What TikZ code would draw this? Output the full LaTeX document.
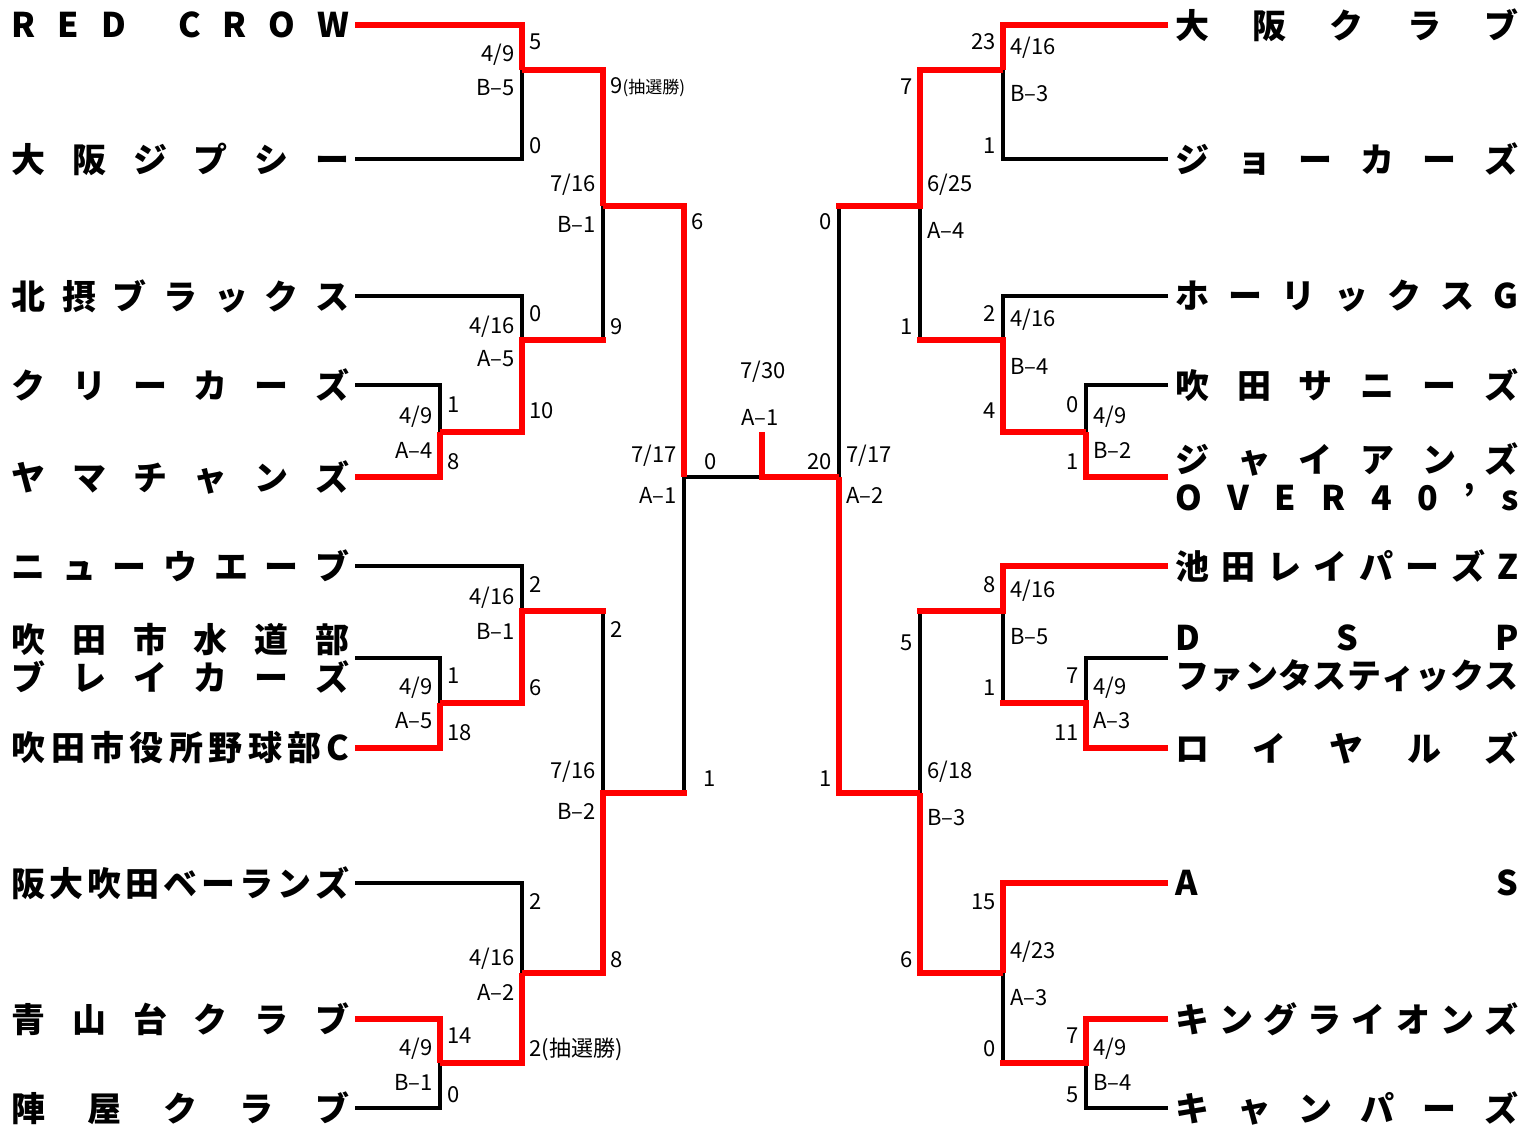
\documentclass[tikz,border=0pt]{standalone}
\usepackage{fontspec}
\usepackage{tikz}
\newfontfamily\jp{Noto Sans CJK JP}
\newcommand{\namefont}{\jp\bfseries\fontsize{17}{19}\selectfont}
\newcommand{\lblfont}{\jp\fontsize{11}{12}\selectfont}
% spread the letters of a team name over the whole width
\def\spread#1{\spreadB#1\relax}
\def\spreadB#1{#1\spreadA}
\def\spreadA#1{\ifx\relax#1\else\hfill#1\expandafter\spreadA\fi}
\newcommand{\lname}[1]{\makebox[169pt][s]{\spread{#1}}}
\newcommand{\rname}[1]{\makebox[171.5pt][s]{\spread{#1}}}
\tikzset{%
  win/.style={red,line width=3pt},
  winstub/.style={win,line cap=rect},
  lose/.style={black,line width=2.2pt},
  teamL/.style={anchor=east,inner xsep=2.5pt,inner ysep=0pt,font=\namefont,align=left},
  teamR/.style={anchor=west,inner xsep=3.5pt,inner ysep=0pt,font=\namefont,align=left},
  lblR/.style={anchor=west,inner sep=1pt,font=\lblfont},
  lblL/.style={anchor=east,inner sep=1pt,font=\lblfont}}

\begin{document}
\begin{tikzpicture}[x=0.5pt,y=-0.5pt]
  \useasboundingbox (0,0) rectangle (1533,1127);
  % teams, left half
  \node[teamL] (tL1) at (355,25) {\lname{RED{\ }CROW}};
  \node[teamL] (tL2) at (355,159) {\lname{大阪ジプシー}};
  \node[teamL] (tL3) at (355,296) {\lname{北摂ブラックス}};
  \node[teamL] (tL4) at (355,385) {\lname{クリーカーズ}};
  \node[teamL] (tL5) at (355,477) {\lname{ヤマチャンズ}};
  \node[teamL] (tL6) at (355,566) {\lname{ニューウエーブ}};
  \node[teamL] (tL7) at (355,658) {\lname{吹田市水道部}\\\lname{ブレイカーズ}};
  \node[teamL] (tL8) at (355,748) {\lname{吹田市役所野球部C}};
  \node[teamL] (tL9) at (355,883) {\lname{阪大吹田ベーランズ}};
  \node[teamL] (tL10) at (355,1019) {\lname{青山台クラブ}};
  \node[teamL] (tL11) at (355,1108) {\lname{陣屋クラブ}};
  % teams, right half
  \node[teamR] (tR1) at (1168,25) {\rname{大阪クラブ}};
  \node[teamR] (tR2) at (1168,159) {\rname{ジョーカーズ}};
  \node[teamR] (tR3) at (1168,296) {\rname{ホーリックスG}};
  \node[teamR] (tR4) at (1168,385) {\rname{吹田サニーズ}};
  \node[teamR] (tR5) at (1168,477) {\rname{ジャイアンズ}\\\rname{OVER40’s}};
  \node[teamR] (tR6) at (1168,566) {\rname{池田レイパーズZ}};
  \node[teamR] (tR7) at (1168,658) {\rname{DSP}\\\rname{ファンタスティックス}};
  \node[teamR] (tR8) at (1168,748) {\rname{ロイヤルズ}};
  \node[teamR] (tR9) at (1168,883) {\rname{AS}};
  \node[teamR] (tR10) at (1168,1019) {\rname{キングライオンズ}};
  \node[teamR] (tR11) at (1168,1108) {\rname{キャンパーズ}};
  % corners of the matches
  \coordinate (a) at (522,70);
  \coordinate (b) at (440,432);
  \coordinate (c) at (522,340);
  \coordinate (d) at (603,206);
  \coordinate (e) at (440,703);
  \coordinate (f) at (522,611);
  \coordinate (g) at (440,1063);
  \coordinate (h) at (522,973);
  \coordinate (i) at (603,793);
  \coordinate (j) at (684,477);
  \coordinate (cen) at (762,477);
  \coordinate (ctop) at (762,432);
  \coordinate (k) at (839,477);
  \coordinate (ra) at (1003,70);
  \coordinate (rb) at (1086,432);
  \coordinate (rc) at (1003,340);
  \coordinate (rd) at (920,206);
  \coordinate (re) at (1086,703);
  \coordinate (rf) at (1003,611);
  \coordinate (rg) at (1086,1063);
  \coordinate (rh) at (1003,973);
  \coordinate (ri) at (920,793);
  % lost
  \draw[lose] (tL2.east) -| (a);
  \draw[lose] (tL3.east) -| (c);
  \draw[lose] (tL4.east) -| (b);
  \draw[lose] (tL6.east) -| (f);
  \draw[lose] (tL7.east) -| (e);
  \draw[lose] (tL9.east) -| (h);
  \draw[lose] (tL11.east) -| (g);
  \draw[lose] (c) -| (d);
  \draw[lose] (f) -| (i);
  \draw[lose] (i) -| (j);
  \draw[lose] (j) -- (cen);
  \draw[lose] (tR2.west) -| (ra);
  \draw[lose] (tR3.west) -| (rc);
  \draw[lose] (tR4.west) -| (rb);
  \draw[lose] (tR7.west) -| (re);
  \draw[lose] (tR11.west) -| (rg);
  \draw[lose] (rc) -| (rd);
  \draw[lose] (re) -| (rf);
  \draw[lose] (rg) -| (rh);
  \draw[lose] (rf) -| (ri);
  \draw[lose] (rd) -| (k);
  % won
  \draw[win] (tL1.east) -| (a);
  \draw[win] (tL5.east) -| (b);
  \draw[win] (tL8.east) -| (e);
  \draw[win] (tL10.east) -| (g);
  \draw[win] (a) -| (d);
  \draw[win] (b) -| (c);
  \draw[win] (e) -| (f);
  \draw[win] (g) -| (h);
  \draw[win] (h) -| (i);
  \draw[win] (d) -| (j);
  \draw[win] (tR1.west) -| (ra);
  \draw[win] (tR5.west) -| (rb);
  \draw[win] (tR6.west) -| (rf);
  \draw[win] (tR8.west) -| (re);
  \draw[win] (tR9.west) -| (rh);
  \draw[win] (tR10.west) -| (rg);
  \draw[win] (ra) -| (rd);
  \draw[win] (rb) -| (rc);
  \draw[win] (rh) -| (ri);
  \draw[win] (ri) -| (k);
  \draw[win] (k) -- (cen) -- (ctop);
  \draw[winstub] (c) -- (c -| d);
  \draw[winstub] (f) -- (f -| i);
  \draw[winstub] (i) -- (i -| j);
  \draw[winstub] (rc) -- (rc -| rd);
  \draw[winstub] (re) -- (re -| rf);
  \draw[winstub] (rg) -- (rg -| rh);
  \draw[winstub] (rf) -- (rf -| ri);
  \draw[winstub] (rd) -- (rd -| k);
  % scores and dates, left half
  \foreach \n/\x/\y/\t in {sL1/522/42/5, sL2/522/146/0, sL3/440/405/1,
    sL4/440/462/8, sL5/522/314/0, sL6/522/411/10, sL8/603/327/9,
    sL9/440/676/1, sL10/440/733/18, sL11/522/585/2, sL12/522/688/6,
    sL13/440/1036/14, sL14/440/1095/0, sL15/522/902/2,
    sL16/522/1049/{2(抽選勝)}, sL17/603/630/2, sL18/603/960/8,
    sL19/684/222/6}
    {\node[lblR] (\n) at (\x+5,\y) {\t};}
  \node[lblR] (sL7) at (608,87) {9{\fontsize{8.5}{9}\selectfont(抽選勝)}};
  \foreach \n/\x/\y/\t in {dL1/522/55/{4/9}, dL2/522/88/B–5,
    dL3/440/417/{4/9}, dL4/440/450/A–4, dL5/522/327/{4/16},
    dL6/522/359/A–5, dL7/603/185/{7/16}, dL8/603/224/B–1,
    dL9/440/688/{4/9}, dL10/440/721/A–5, dL11/522/598/{4/16},
    dL12/522/631/B–1, dL13/440/1049/{4/9}, dL14/440/1082/B–1,
    dL15/522/959/{4/16}, dL16/522/992/A–2, dL17/603/772/{7/16},
    dL18/603/811/B–2, dL19/684/456/{7/17}, dL20/684/495/A–1}
    {\node[lblL] (\n) at (\x-5,\y) {\t};}
  \node[font=\lblfont] (f0) at (711,462) {0};
  \node[font=\lblfont] (f1) at (710,779) {1};
  % final
  \node[font=\lblfont] (fday) at (763,372) {7/30};
  \node[font=\lblfont] (fgame) at (760,417) {A–1};
  % scores and dates, right half
  \foreach \n/\x/\y/\t in {sR1/1003/42/23, sR2/1003/146/1, sR3/1086/405/0,
    sR4/1086/462/1, sR5/1003/314/2, sR6/1003/411/4, sR7/920/87/7,
    sR8/920/327/1, sR9/1086/676/7, sR10/1086/733/11, sR11/1003/585/8,
    sR12/1003/688/1, sR13/1086/1036/7, sR14/1086/1095/5,
    sR15/1003/902/15, sR16/1003/1049/0, sR17/920/643/5, sR18/920/960/6,
    sR19/839/222/0, sR20/839/462/20, sR21/839/779/1}
    {\node[lblL] (\n) at (\x-5,\y) {\t};}
  \foreach \n/\x/\y/\t in {dR1/1003/48/{4/16}, dR2/1003/94/B–3,
    dR3/1086/417/{4/9}, dR4/1086/450/B–2, dR5/1003/320/{4/16},
    dR6/1003/366/B–4, dR7/920/185/{6/25}, dR8/920/230/A–4,
    dR9/1086/688/{4/9}, dR10/1086/721/A–3, dR11/1003/591/{4/16},
    dR12/1003/637/B–5, dR13/1086/1049/{4/9}, dR14/1086/1082/B–4,
    dR15/1003/952/{4/23}, dR16/1003/998/A–3, dR17/920/772/{6/18},
    dR18/920/818/B–3, dR19/839/456/{7/17}, dR20/839/495/A–2}
    {\node[lblR] (\n) at (\x+5,\y) {\t};}
\end{tikzpicture}
\end{document}
